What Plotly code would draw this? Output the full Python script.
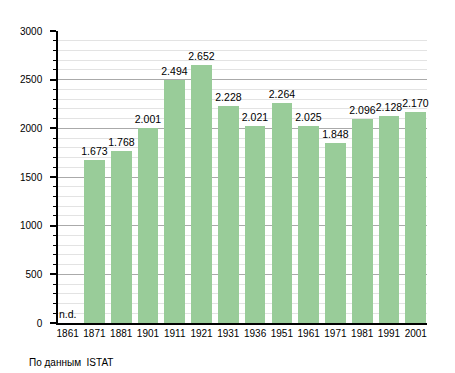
import plotly.graph_objects as go

years = ["1861", "1871", "1881", "1901", "1911", "1921", "1931", "1936",
         "1951", "1961", "1971", "1981", "1991", "2001"]
population = [None, 1673, 1768, 2001, 2494, 2652, 2228, 2021,
              2264, 2025, 1848, 2096, 2128, 2170]
y_ticks = [0, 500, 1000, 1500, 2000, 2500, 3000]

FONT = "Liberation Sans, Arial, sans-serif"
BAR = "rgb(153,204,153)"
FS = 10

# page body has an 8px default margin, so the figure is sized to fit
W, H = 447, 365
L, R, T, B = 42, 28, 23, 50
PW, PH = W - L - R, H - T - B

xs = list(range(len(years)))
labels = ["" if v is None else f"{v:,}".replace(",", ".") for v in population]

fig = go.Figure()
fig.add_trace(go.Bar(
    x=xs, y=population, width=0.77,
    marker=dict(color=BAR, line=dict(width=0)),
    text=labels, textposition="outside", cliponaxis=False,
    constraintext="none", textangle=0,
    textfont=dict(family=FONT, size=FS + 0.5, color="black"),
    hoverinfo="skip",
))

fig.add_annotation(x=0, y=0, text="n.d.", showarrow=False, xanchor="center",
                   yanchor="bottom", yshift=1,
                   font=dict(family=FONT, size=FS + 0.5, color="black"))
fig.add_annotation(xref="paper", yref="paper",
                   x=(11 - L) / PW, y=(H - 354 - B) / PH,
                   text="По данным  ISTAT", showarrow=False,
                   xanchor="left", yanchor="middle", borderpad=0,
                   font=dict(family=FONT, size=FS, color="black"))

fig.update_layout(
    width=W, height=H,
    margin=dict(l=L, r=R, t=T, b=B, pad=0),
    paper_bgcolor="white", plot_bgcolor="white",
    showlegend=False, bargap=0,
    font=dict(family=FONT, size=FS, color="black"),
    xaxis=dict(
        tickmode="array", tickvals=xs, ticktext=years,
        range=[-0.36, 13.42], showgrid=False, zeroline=False,
        showline=True, linecolor="black", linewidth=1.5,
        ticks="", tickfont=dict(family=FONT, size=FS, color="black"),
        fixedrange=True,
    ),
    yaxis=dict(
        range=[0, 3000], tickmode="array", tickvals=y_ticks,
        showgrid=True, gridcolor="#aaaaaa", gridwidth=1,
        zeroline=False, showline=True, linecolor="black", linewidth=1.5,
        ticks="outside", ticklen=6, tickcolor="black", tickwidth=1.5,
        ticklabelstandoff=6,
        tickfont=dict(family=FONT, size=FS, color="black"),
        minor=dict(dtick=100, ticks="outside", ticklen=3, tickcolor="black",
                   tickwidth=1, showgrid=True, gridcolor="#e3e3e3", gridwidth=1),
        fixedrange=True,
    ),
)

fig.write_html("out.html")
